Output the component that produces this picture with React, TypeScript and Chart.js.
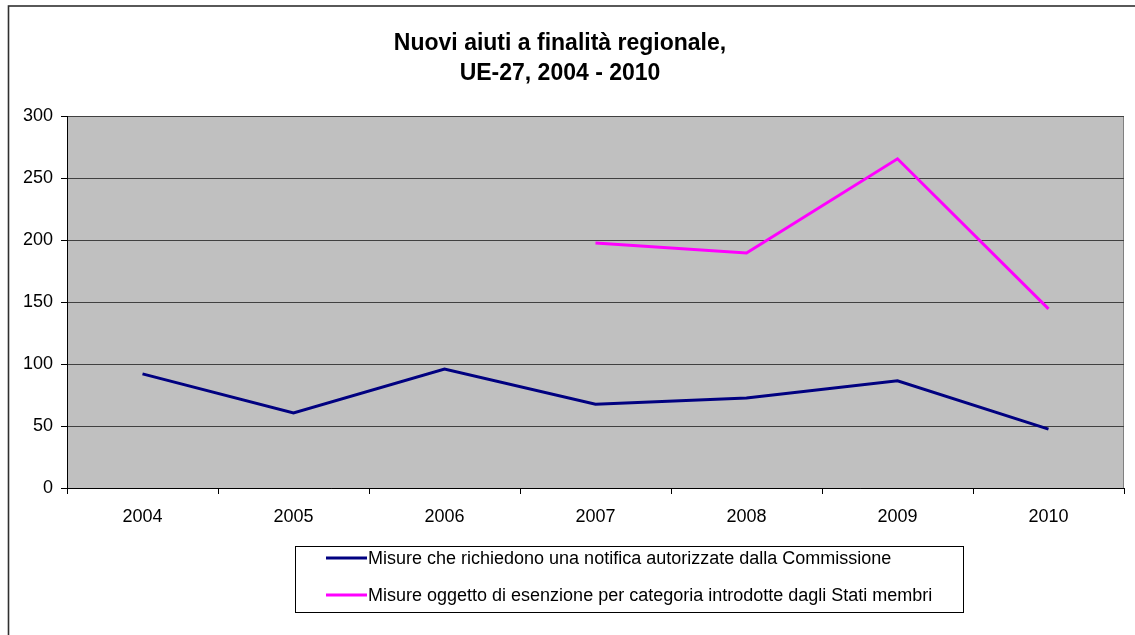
import React, { useEffect, useRef } from "react";
import { Chart, registerables } from "chart.js";

Chart.register(...registerables);

const titleLines = ["Nuovi aiuti a finalità regionale,", "UE-27, 2004 - 2010"];
const categories = ["2004", "2005", "2006", "2007", "2008", "2009", "2010"];
const notificaLabel = "Misure che richiedono una notifica autorizzate dalla Commissione";
const esenzioneLabel = "Misure oggetto di esenzione per categoria introdotte dagli Stati membri";
const notificaValues = [92, 60.5, 96, 67.5, 72.5, 86.5, 47.5];
const esenzioneValues = [null, null, null, 197.5, 189.5, 265.5, 144.5];
const yMin = 0;
const yMax = 300;
const yStep = 50;

const FONT = "'Liberation Sans', Arial, sans-serif";

const decorPlugin = {
  id: "decor",
  beforeDraw(chart: any) {
    const { ctx, chartArea } = chart;
    ctx.save();
    ctx.fillStyle = "#C0C0C0";
    ctx.fillRect(chartArea.left, chartArea.top, chartArea.right - chartArea.left, chartArea.bottom - chartArea.top);
    ctx.strokeStyle = "#808080";
    ctx.lineWidth = 1;
    ctx.beginPath();
    ctx.moveTo(chartArea.right - 0.5, chartArea.top);
    ctx.lineTo(chartArea.right - 0.5, chartArea.bottom);
    ctx.stroke();
    ctx.restore();
  },
  afterDraw(chart: any) {
    const { ctx } = chart;
    ctx.save();
    // outer frame
    ctx.strokeStyle = "#303030";
    ctx.lineWidth = 1.6;
    ctx.strokeRect(8.5, 6, 1300, 800);
    // title
    ctx.fillStyle = "#000";
    ctx.font = `bold 23px ${FONT}`;
    ctx.textAlign = "center";
    ctx.textBaseline = "alphabetic";
    ctx.fillText(titleLines[0], 560, 50);
    ctx.fillText(titleLines[1], 560, 80);
    // legend
    ctx.strokeStyle = "#000";
    ctx.lineWidth = 1;
    ctx.strokeRect(295.5, 546.5, 668, 66);
    const items = chart.data.datasets;
    const ys = [558, 595];
    ctx.font = `18px ${FONT}`;
    ctx.textAlign = "left";
    ctx.textBaseline = "middle";
    items.forEach((ds: any, i: number) => {
      ctx.strokeStyle = ds.borderColor;
      ctx.lineWidth = 3;
      ctx.beginPath();
      ctx.moveTo(326, ys[i]);
      ctx.lineTo(367, ys[i]);
      ctx.stroke();
      ctx.fillStyle = "#000";
      ctx.fillText(ds.label, 368, ys[i] + 1);
    });
    ctx.restore();
  },
};

export default function App() {
  const canvasRef = useRef<HTMLCanvasElement | null>(null);

  useEffect(() => {
    if (!canvasRef.current) return;
    const chart = new Chart(canvasRef.current, {
      type: "line",
      data: {
        labels: categories,
        datasets: [
          {
            label: notificaLabel,
            data: notificaValues,
            borderColor: "#000080",
            backgroundColor: "#000080",
            borderWidth: 3,
            pointRadius: 0,
            tension: 0,
            spanGaps: false,
          },
          {
            label: esenzioneLabel,
            data: esenzioneValues as any,
            borderColor: "#FF00FF",
            backgroundColor: "#FF00FF",
            borderWidth: 3,
            pointRadius: 0,
            tension: 0,
            spanGaps: false,
          },
        ],
      },
      options: {
        responsive: false,
        animation: false,
        devicePixelRatio: 1,
        layout: { padding: { left: 0, top: 116, right: 11, bottom: 97 } },
        plugins: {
          legend: { display: false },
          title: { display: false },
          tooltip: { enabled: false },
        },
        scales: {
          x: {
            type: "category",
            offset: true,
            afterFit: (s: any) => {
              s.height = 50;
            },
            grid: {
              offset: true,
              drawOnChartArea: false,
              drawTicks: true,
              tickLength: 6,
              tickColor: "#000",
            },
            border: { color: "#000", width: 1 },
            ticks: {
              color: "#000",
              font: { family: FONT, size: 18 },
              padding: 12,
              maxRotation: 0,
              autoSkip: false,
            },
          },
          y: {
            min: yMin,
            max: yMax,
            afterFit: (s: any) => {
              s.width = 67;
            },
            grid: {
              color: "#404040",
              lineWidth: 1,
              tickLength: 6,
              tickColor: "#000",
            },
            border: { color: "#000", width: 1 },
            ticks: {
              stepSize: yStep,
              color: "#000",
              font: { family: FONT, size: 18 },
              padding: 8,
            },
          },
        },
      },
      plugins: [decorPlugin],
    });
    return () => chart.destroy();
  }, []);

  return (
    <div style={{ position: "fixed", left: 0, top: 0, width: 1135, height: 635, background: "#fff" }}>
      <canvas ref={canvasRef} width={1135} height={635} style={{ display: "block" }} />
    </div>
  );
}
